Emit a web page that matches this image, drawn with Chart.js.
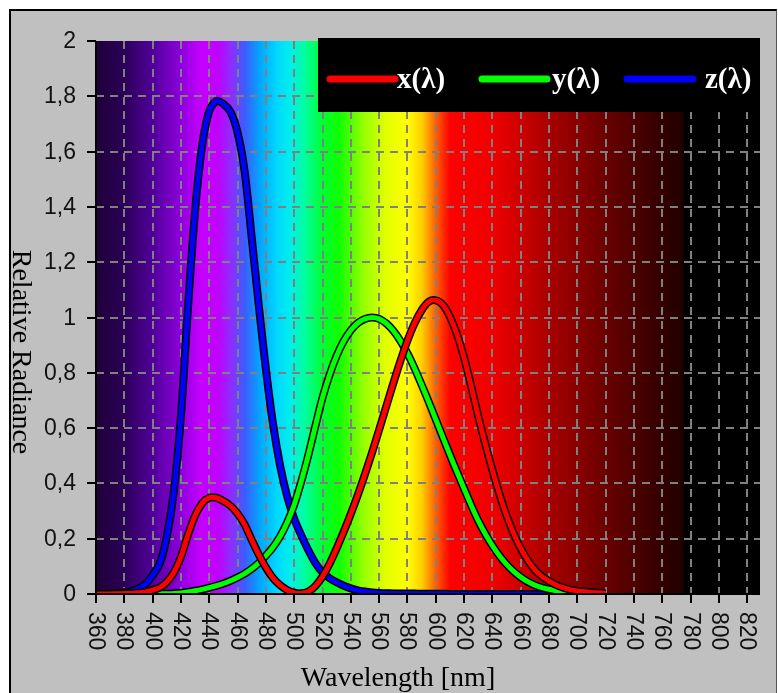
<!DOCTYPE html>
<html><head><meta charset="utf-8">
<script src="https://cdn.jsdelivr.net/npm/chart.js@4/dist/chart.umd.min.js"></script>
<style>
html,body{margin:0;padding:0;background:#fff;width:778px;height:693px;overflow:hidden}
#panel{position:absolute;left:9px;top:9px;width:765px;height:700px;background:#c0c0c0;border-left:2px solid #000;border-top:2px solid #000;border-right:1px solid #555}
canvas{position:absolute;left:0;top:0}
</style></head>
<body><div id="panel"></div><canvas id="c" width="778" height="693"></canvas>
<script>
// ---- data ----
const wavelengths = [360,365,370,375,380,385,390,395,400,405,410,415,420,425,430,435,440,445,450,455,460,465,470,475,480,485,490,495,500,505,510,515,520,525,530,535,540,545,550,555,560,565,570,575,580,585,590,595,600,605,610,615,620,625,630,635,640,645,650,655,660,665,670,675,680,685,690,695,700,705,710,715,720];
const xBar = [0.00013,0.000232,0.000415,0.000742,0.001368,0.002236,0.004243,0.00765,0.01431,0.02319,0.04351,0.07763,0.13438,0.21477,0.2839,0.3285,0.34828,0.34806,0.3362,0.3187,0.2908,0.2511,0.19536,0.1421,0.09564,0.05795,0.03201,0.0147,0.0049,0.0024,0.0093,0.0291,0.06327,0.1096,0.1655,0.22575,0.2904,0.3597,0.43345,0.51205,0.5945,0.6784,0.7621,0.8425,0.9163,0.9786,1.0263,1.0567,1.0622,1.0456,1.0026,0.9384,0.85445,0.7514,0.6424,0.5419,0.4479,0.3608,0.2835,0.2187,0.1649,0.1212,0.0874,0.0636,0.04677,0.0329,0.0227,0.01584,0.011359,0.008111,0.00579,0.004109,0.002899];
const yBar = [0.0000039,0.000007,0.0000124,0.000022,0.000039,0.000064,0.00012,0.000217,0.000396,0.00064,0.00121,0.00218,0.004,0.0073,0.0116,0.01684,0.023,0.0298,0.038,0.048,0.06,0.0739,0.09098,0.1126,0.13902,0.1693,0.20802,0.2586,0.323,0.4073,0.503,0.6082,0.71,0.7932,0.862,0.91485,0.954,0.9803,0.99495,1.0,0.995,0.9786,0.952,0.9154,0.87,0.8163,0.757,0.6949,0.631,0.5668,0.503,0.4412,0.381,0.321,0.265,0.217,0.175,0.1382,0.107,0.0816,0.061,0.04458,0.032,0.0232,0.017,0.01192,0.00821,0.005723,0.004102,0.002929];
const zBar = [0.000606,0.001086,0.001946,0.003486,0.00645,0.01055,0.02005,0.03621,0.06785,0.1102,0.2074,0.3713,0.6456,1.03905,1.3856,1.62296,1.74706,1.7826,1.77211,1.7441,1.6692,1.5281,1.28764,1.0419,0.81295,0.6162,0.46518,0.3533,0.272,0.2123,0.1582,0.1117,0.07825,0.05725,0.04216,0.02984,0.0203,0.0134,0.00875,0.00575,0.0039,0.00275,0.0021,0.0018,0.00165,0.0014,0.0011,0.001,0.0008,0.0006,0.00034,0.00024,0.00019,0.0001,0.00005,0.00003,0.00002,0.00001,0,0,0,0,0,0,0,0,0,0,0];
const seriesNames = ['x(\u03BB)','y(\u03BB)','z(\u03BB)'];
const seriesColors = ['#ff0000','#00ff00','#0000ff'];
const xTickValues = [360,380,400,420,440,460,480,500,520,540,560,580,600,620,640,660,680,700,720,740,760,780,800,820];
const xTickLabels = xTickValues.map(String);
const yTickValues = [0,0.2,0.4,0.6,0.8,1,1.2,1.4,1.6,1.8,2];
const yTickLabels = ['0','0,2','0,4','0,6','0,8','1','1,2','1,4','1,6','1,8','2'];
const xTitle = 'Wavelength [nm]';
const yTitle = 'Relative Radiance';

// spectrum background (wavelength -> colour)
const spectrumStops = [
 [360,'#1e0038'],[380,'#2c0058'],[400,'#50009a'],[420,'#8e00dc'],[434,'#c400ff'],[446,'#c000ff'],
 [456,'#8a30ff'],[465,'#3c5cff'],[476,'#00a8ff'],[488,'#00d8ff'],[498,'#00f0e8'],[508,'#00ff9a'],
 [520,'#00ff30'],[532,'#10ff00'],[548,'#90ff00'],[564,'#e0ff00'],[580,'#ffff00'],[590,'#ffd000'],
 [600,'#ff6000'],[610,'#ff0000'],[640,'#f00000'],[680,'#a80000'],[720,'#6a0000'],[755,'#380000'],
 [774,'#220000'],[775.5,'#000000'],[829,'#000000']
];

function pts(vals){ return vals.map((v,i)=>({x:wavelengths[i],y:v})); }

const bgPlugin = {
 id:'bg',
 beforeDatasetsDraw(chart){
  const {ctx, chartArea:a, scales:{x,y}} = chart;
  const w=a.right-a.left;
  const g=ctx.createLinearGradient(a.left,0,a.right,0);
  for(const [nm,c] of spectrumStops){
    let t=(x.getPixelForValue(nm)-a.left)/w; t=Math.min(1,Math.max(0,t)); g.addColorStop(t,c);
  }
  ctx.save();
  ctx.fillStyle=g; ctx.fillRect(a.left,a.top,w,a.bottom-a.top);
  ctx.strokeStyle='#808080'; ctx.lineWidth=2; ctx.setLineDash([8,6]);
  for(const v of xTickValues){ if(v===360) continue;
    const px=Math.round(x.getPixelForValue(v));
    ctx.beginPath(); ctx.moveTo(px,a.top); ctx.lineTo(px,a.bottom); ctx.stroke(); }
  for(const v of yTickValues){ if(v===0||v===2) continue;
    const py=Math.round(y.getPixelForValue(v));
    ctx.beginPath(); ctx.moveTo(a.left,py); ctx.lineTo(a.right,py); ctx.stroke(); }
  ctx.restore();
 },
 afterDraw(chart){
  const {ctx, chartArea:a, scales:{x,y}} = chart;
  ctx.save();
  // axis lines and tick marks
  ctx.strokeStyle='#000'; ctx.lineWidth=2;
  ctx.beginPath(); ctx.moveTo(a.left,a.top); ctx.lineTo(a.left,a.bottom); ctx.lineTo(a.right,a.bottom); ctx.stroke();
  ctx.fillStyle='#111';
  ctx.font='23px "Liberation Sans", Arial, sans-serif';
  ctx.textAlign='right'; ctx.textBaseline='middle';
  yTickValues.forEach((v,i)=>{
    const py=Math.round(y.getPixelForValue(v));
    ctx.beginPath(); ctx.moveTo(a.left-9,py); ctx.lineTo(a.left,py); ctx.stroke();
    ctx.fillText(yTickLabels[i], a.left-20, py+1);
  });
  xTickValues.forEach((v,i)=>{
    const px=Math.round(x.getPixelForValue(v));
    ctx.beginPath(); ctx.moveTo(px,a.bottom); ctx.lineTo(px,a.bottom+9); ctx.stroke();
    ctx.save(); ctx.translate(px,a.bottom+18); ctx.rotate(Math.PI/2);
    ctx.textAlign='left'; ctx.textBaseline='middle';
    ctx.fillText(xTickLabels[i],0,1); ctx.restore();
  });
  // titles
  ctx.fillStyle='#000';
  ctx.font='28px "Liberation Serif", "Times New Roman", serif';
  ctx.textAlign='center'; ctx.textBaseline='alphabetic';
  ctx.fillText(xTitle, 398, 686);
  ctx.save(); ctx.translate(13,352); ctx.rotate(Math.PI/2);
  ctx.textBaseline='alphabetic'; ctx.fillText(yTitle,0,0); ctx.restore();
  // legend
  ctx.fillStyle='#000'; ctx.fillRect(318,38,a.right-318,74);
  const lx=[[330,395,397],[482,547,552],[627,693,705]];
  ctx.lineCap='round'; ctx.lineWidth=7;
  ctx.font='bold 29px "Liberation Serif", "Times New Roman", serif';
  ctx.textAlign='left'; ctx.textBaseline='alphabetic';
  seriesNames.forEach((n,i)=>{
    ctx.strokeStyle=seriesColors[i];
    ctx.beginPath(); ctx.moveTo(lx[i][0],79); ctx.lineTo(lx[i][1],79); ctx.stroke();
    ctx.fillStyle='#fff'; ctx.fillText(n,lx[i][2],88);
  });
  ctx.restore();
 }
};

const series = [xBar, yBar, zBar];
const datasets = [];
series.forEach((vals,i)=>{
  datasets.push({label:seriesNames[i], data:pts(vals), borderColor:seriesColors[i], borderWidth:5, order:i*2});
  datasets.push({label:seriesNames[i]+' outline', data:pts(vals), borderColor:'#000', borderWidth:8, order:i*2+1});
});

new Chart(document.getElementById('c'),{
 type:'line',
 data:{datasets},
 options:{
  responsive:false, animation:false, devicePixelRatio:1,
  layout:{padding:{top:41,right:18,bottom:0,left:0}},
  elements:{point:{radius:0},line:{tension:0.3,fill:false,borderJoinStyle:'round'}},
  plugins:{legend:{display:false},tooltip:{enabled:false}},
  scales:{
   x:{type:'linear',min:360,max:829,
      ticks:{display:false,stepSize:20},grid:{display:false},border:{display:false},
      afterBuildTicks:s=>{s.ticks=xTickValues.map(v=>({value:v}));},
      afterFit:s=>{s.height=99;}},
   y:{type:'linear',min:0,max:2,
      ticks:{display:false,stepSize:0.2},grid:{display:false},border:{display:false},
      afterBuildTicks:s=>{s.ticks=yTickValues.map(v=>({value:v}));},
      afterFit:s=>{s.width=96;}}
  }
 },
 plugins:[bgPlugin]
});
</script></body></html>
